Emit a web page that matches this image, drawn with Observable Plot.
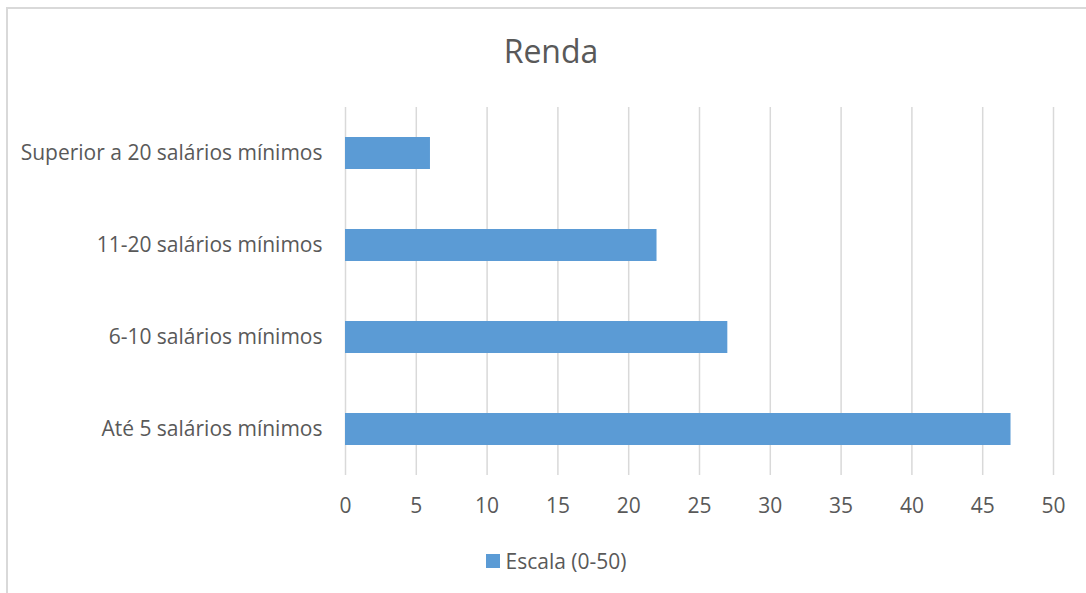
<!DOCTYPE html>
<html>
<head>
<meta charset="utf-8">
<script src="https://cdn.jsdelivr.net/npm/d3@7"></script>
<script src="https://cdn.jsdelivr.net/npm/@observablehq/plot@0.6"></script>
<style>
  html, body { margin: 0; padding: 0; background: #fff; overflow: hidden; width: 1086px; height: 593px; }
  #frame { position: absolute; left: 6px; top: 7px; width: 1200px; height: 700px; border: 2px solid #d9d9d9; box-sizing: border-box; }
  #chart { position: absolute; left: 0; top: 0; width: 1086px; height: 593px; font-family: "Open Sans", sans-serif; color: #595959; }
  #title { position: absolute; left: 0; width: 1086px; top: 0; height: 90px; text-align: center; font-size: 32px; line-height: 32px; padding-top: 35px; padding-left: 16px; box-sizing: border-box; }
  #plot { position: absolute; left: 0; top: 90px; }
  #legend { position: absolute; left: 0; top: 541px; width: 1086px; height: 40px; display: flex; justify-content: center; align-items: center; font-size: 21px; padding-left: 26px; box-sizing: border-box; }
  #legend .sw { width: 14px; height: 14px; background: #5B9BD5; margin-right: 6px; }
</style>
</head>
<body>
<div id="frame"></div>
<div id="chart">
  <div id="title">Renda</div>
  <div id="plot"></div>
  <div id="legend"><span class="sw"></span><span id="legendText"></span></div>
</div>
<script>
const categories = ["Superior a 20 salários mínimos", "11-20 salários mínimos", "6-10 salários mínimos", "Até 5 salários mínimos"];
const values = [6, 22, 27, 47];
const xTicks = [0, 5, 10, 15, 20, 25, 30, 35, 40, 45, 50];
const seriesName = "Escala (0-50)";
const barColor = "#5B9BD5";

const data = categories.map((c, i) => ({category: c, value: values[i]}));

const chart = Plot.plot({
  width: 1086,
  height: 450,
  marginTop: 17,
  marginBottom: 65,
  marginLeft: 345,
  marginRight: 33,
  style: {fontFamily: "'Open Sans', sans-serif", fontSize: "21px", color: "#595959", background: "transparent"},
  x: {domain: [0, 50], ticks: xTicks, tickSize: 0, tickPadding: 23, label: null},
  y: {domain: categories, paddingInner: 0.65, paddingOuter: 0.325, tickSize: 0, tickPadding: 23, label: null},
  marks: [
    Plot.ruleX(xTicks, {stroke: "#d9d9d9", strokeWidth: 1.5}),
    Plot.barX(data, {x: "value", y: "category", fill: barColor}),
    Plot.axisX({ticks: xTicks, tickSize: 0, tickPadding: 23, label: null}),
    Plot.axisY({tickSize: 0, tickPadding: 23, label: null})
  ]
});
document.getElementById("plot").appendChild(chart);
document.getElementById("legendText").textContent = seriesName;
</script>
</body>
</html>
